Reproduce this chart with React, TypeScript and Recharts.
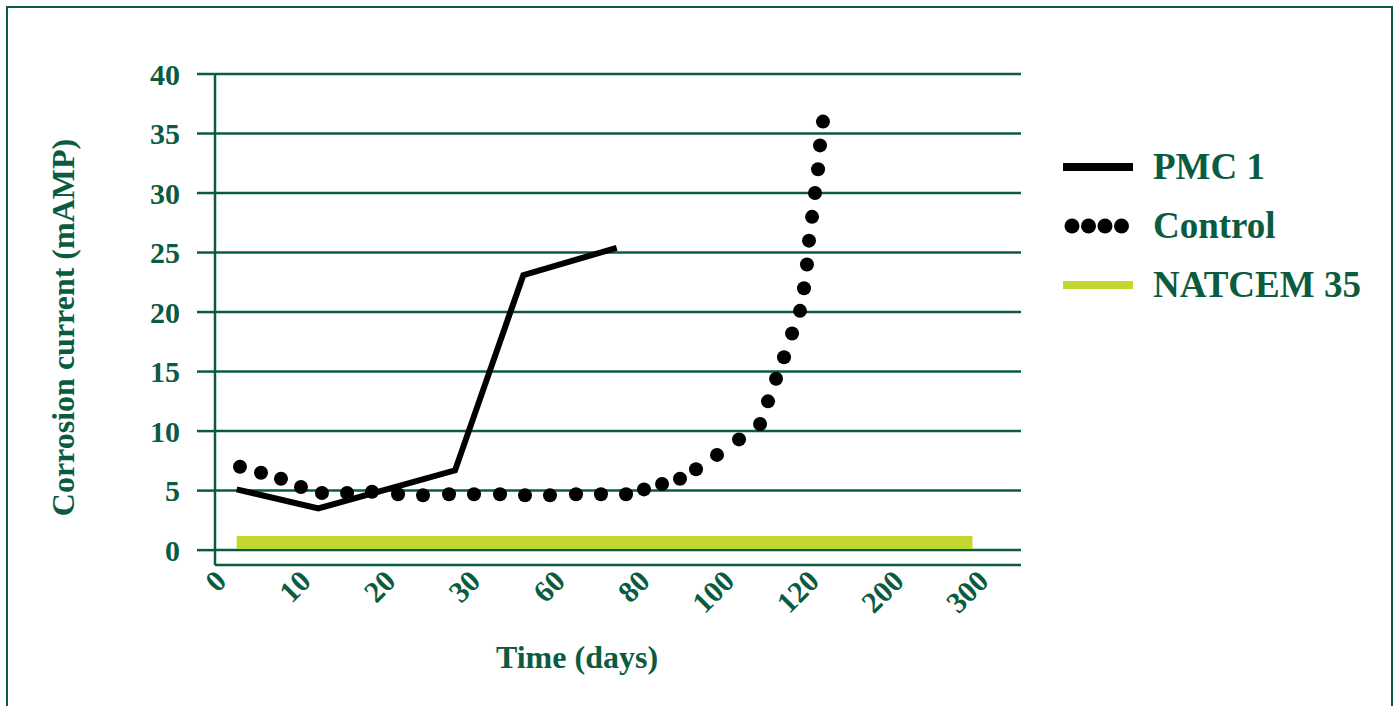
import { CartesianGrid, Line, LineChart, XAxis, YAxis } from "recharts";

const GREEN = "#0b5c3f";
const LIME = "#c4d72e";
const FONT = "'Liberation Serif', 'Times New Roman', serif";

// x is measured along the category axis: 0 = label "0", 1 = label "10", ...
const xLabels = ["0", "10", "20", "30", "60", "80", "100", "120", "200", "300"];
const yTicks = [0, 5, 10, 15, 20, 25, 30, 35, 40];

const pmcX = [0.126, 1.09, 2.704, 3.51, 4.613];
const pmcY = [5.1, 3.5, 6.7, 23.1, 25.4];

const controlX = [
  0.165, 0.413, 0.649, 0.885, 1.133, 1.429, 1.724, 2.031, 2.326, 2.633, 2.928, 3.235, 3.53,
  3.825, 4.132, 4.427, 4.723, 4.935, 5.148, 5.36, 5.549, 5.797, 6.057, 6.305, 6.399, 6.494,
  6.588, 6.683, 6.777, 6.824, 6.859, 6.883, 6.919, 6.954, 6.99, 7.013, 7.048,
];
const controlY = [
  7.0, 6.5, 6.0, 5.3, 4.8, 4.8, 4.9, 4.7, 4.6, 4.7, 4.7, 4.7, 4.6, 4.6, 4.7, 4.7, 4.7, 5.1,
  5.55, 6.0, 6.8, 8.0, 9.3, 10.6, 12.5, 14.4, 16.2, 18.2, 20.1, 22, 24, 26, 28, 30, 32, 34, 36,
];

const natcemX = [0.126, 8.813];
const natcemY = [0.65, 0.65];

const toPoints = (xs: number[], ys: number[]) => xs.map((x, i) => ({ x, y: ys[i] }));

const pmcData = toPoints(pmcX, pmcY);
const controlData = toPoints(controlX, controlY);
const natcemData = toPoints(natcemX, natcemY);

const legendItems = [
  { name: "PMC 1", kind: "line", color: "#000" },
  { name: "Control", kind: "dots", color: "#000" },
  { name: "NATCEM 35", kind: "line", color: LIME },
];

function XTick({ x, y, payload }: any) {
  const ay = y + 18;
  return (
    <text
      x={x + 2}
      y={ay}
      transform={`rotate(-45 ${x + 2} ${ay})`}
      textAnchor="end"
      fill={GREEN}
      fontSize={30}
      fontWeight="bold"
      fontFamily={FONT}
    >
      {xLabels[payload.value]}
    </text>
  );
}

function YTitle({ viewBox }: any) {
  const cx = viewBox.x + 55;
  const cy = viewBox.y + viewBox.height / 2 + 8;
  return (
    <text
      x={cx}
      y={cy}
      transform={`rotate(-90 ${cx} ${cy})`}
      textAnchor="middle"
      dominantBaseline="central"
      fill={GREEN}
      fontSize={32}
      fontWeight="bold"
      fontFamily={FONT}
    >
      Corrosion current (mAMP)
    </text>
  );
}

function XTitle({ viewBox }: any) {
  const cx = viewBox.x + viewBox.width / 2 - 41;
  const cy = viewBox.y + 92;
  return (
    <text
      x={cx}
      y={cy}
      textAnchor="middle"
      dominantBaseline="central"
      fill={GREEN}
      fontSize={32}
      fontWeight="bold"
      fontFamily={FONT}
    >
      Time (days)
    </text>
  );
}

function LegendBox() {
  return (
    <div
      style={{
        position: "absolute",
        left: 1055,
        top: 129,
        fontFamily: FONT,
        fontWeight: "bold",
        fontSize: 37,
        color: GREEN,
      }}
    >
      {legendItems.map((item) => (
        <div key={item.name} style={{ display: "flex", alignItems: "center", height: 59 }}>
          <svg width={70} height={20} style={{ marginRight: 20 }}>
            {item.kind === "line" ? (
              <line x1={0} x2={70} y1={10} y2={10} stroke={item.color} strokeWidth={8} />
            ) : (
              [9, 25.5, 42, 58.5].map((cx) => <circle key={cx} cx={cx} cy={10} r={7.5} fill={item.color} />)
            )}
          </svg>
          <span style={{ lineHeight: 1 }}>{item.name}</span>
        </div>
      ))}
    </div>
  );
}

export default function App() {
  return (
    <div style={{ position: "relative", width: 1383, height: 700 }}>
      <LineChart width={1383} height={700} margin={{ top: 66, right: 370, bottom: 53, left: 0 }}>
        <CartesianGrid vertical={false} stroke={GREEN} strokeWidth={2.5} />
        <XAxis
          type="number"
          dataKey="x"
          domain={[-0.13, 9.386]}
          ticks={xLabels.map((_, i) => i)}
          interval={0}
          allowDataOverflow
          axisLine={false}
          tickLine={false}
          tickSize={0}
          tickMargin={0}
          height={90}
          tick={<XTick />}
          label={{ content: XTitle }}
        />
        <YAxis
          type="number"
          domain={[-1.25, 40]}
          ticks={yTicks}
          interval={0}
          allowDataOverflow
          width={207}
          tickSize={18}
          tickMargin={17}
          axisLine={{ stroke: GREEN, strokeWidth: 2.5 }}
          tickLine={{ stroke: GREEN, strokeWidth: 2.5 }}
          tick={{ fill: GREEN, fontSize: 30, fontWeight: "bold", fontFamily: FONT }}
          label={{ content: YTitle }}
        />
        <Line
          data={natcemData}
          dataKey="y"
          name="NATCEM 35"
          stroke={LIME}
          strokeWidth={13}
          dot={false}
          activeDot={false}
          isAnimationActive={false}
        />
        <Line
          data={pmcData}
          dataKey="y"
          name="PMC 1"
          stroke="#000"
          strokeWidth={6}
          dot={false}
          activeDot={false}
          isAnimationActive={false}
        />
        <Line
          data={controlData}
          dataKey="y"
          name="Control"
          stroke="none"
          dot={{ r: 7, fill: "#000", stroke: "none" }}
          activeDot={false}
          isAnimationActive={false}
        />
      </LineChart>
      <LegendBox />
      <div
        style={{
          position: "fixed",
          left: 6,
          top: 6,
          width: 1387,
          height: 720,
          borderTop: `2px solid ${GREEN}`,
          borderLeft: `2px solid ${GREEN}`,
          borderRight: `2px solid ${GREEN}`,
          boxSizing: "border-box",
          pointerEvents: "none",
          zIndex: 5,
        }}
      />
    </div>
  );
}
